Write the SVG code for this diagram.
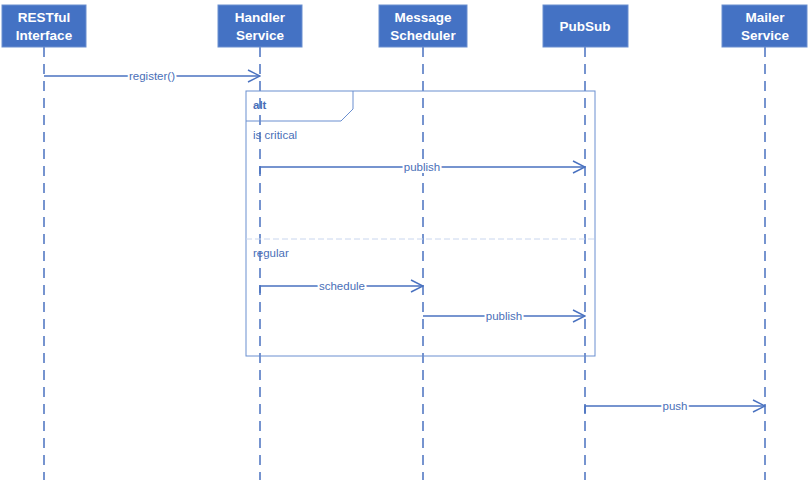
<svg xmlns="http://www.w3.org/2000/svg" width="808" height="485" viewBox="0 0 808 485">
<style>
.box{fill:#4472C4;stroke:#6A8FD0;stroke-width:1}
.bt{font-family:"Liberation Sans",Arial,sans-serif;font-size:13.5px;font-weight:bold;fill:#fff;text-anchor:middle}
.life{stroke:#4A72C0;stroke-width:1.5;stroke-dasharray:10,7;fill:none}
.msg{stroke:#4A72C0;stroke-width:1.5;fill:none}
.ml{font-family:"Liberation Sans",Arial,sans-serif;font-size:11.5px;fill:#4A6FB8;text-anchor:middle;paint-order:stroke;stroke:#fff;stroke-width:4px}
.frame{fill:none;stroke:#6A8FD0;stroke-width:1}
.ft{font-family:"Liberation Sans",Arial,sans-serif;font-size:11.5px;fill:#4A6FB8}
</style>
<defs>
<marker id="arr" viewBox="0 0 14 14" refX="13" refY="7" markerWidth="14" markerHeight="14" markerUnits="userSpaceOnUse" orient="auto">
<path d="M1,1 L13,7 L1,13" fill="none" stroke="#4A72C0" stroke-width="1.5"/>
</marker>
</defs>
<rect width="808" height="485" fill="#fff"/>
<g id="lifelines">
<line class="life" x1="44" y1="47" x2="44" y2="480"/>
<line class="life" x1="260" y1="47" x2="260" y2="480"/>
<line class="life" x1="423" y1="47" x2="423" y2="480"/>
<line class="life" x1="585" y1="47" x2="585" y2="480"/>
<line class="life" x1="765" y1="47" x2="765" y2="480"/>
</g>
<g id="restful"><rect class="box" x="2" y="5" width="84" height="42"/><text class="bt" x="44" y="22">RESTful</text><text class="bt" x="44" y="40">Interface</text></g>
<g id="handler"><rect class="box" x="218" y="5" width="84" height="42"/><text class="bt" x="260" y="22">Handler</text><text class="bt" x="260" y="40">Service</text></g>
<g id="scheduler"><rect class="box" x="379" y="5" width="88" height="42"/><text class="bt" x="423" y="22">Message</text><text class="bt" x="423" y="40">Scheduler</text></g>
<g id="pubsub"><rect class="box" x="543" y="5" width="85" height="42"/><text class="bt" x="585" y="31">PubSub</text></g>
<g id="mailer"><rect class="box" x="722" y="5" width="85" height="42"/><text class="bt" x="765" y="22">Mailer</text><text class="bt" x="765" y="40">Service</text></g>
<g id="alt-frame">
<rect class="frame" x="246" y="91" width="349" height="265"/>
<path class="frame" d="M246,121 L341,121 L353,109 L353,91"/>
<text class="ft" x="253" y="109" font-weight="bold">alt</text>
<text class="ft" x="253" y="139">is critical</text>
<line x1="246" y1="239" x2="595" y2="239" stroke="#C9D6EE" stroke-width="1" stroke-dasharray="6,3"/>
<text class="ft" x="253" y="257">regular</text>
</g>
<g id="connectors">
<line class="msg" x1="44" y1="76" x2="260" y2="76" marker-end="url(#arr)"/>
<text class="ml" x="152" y="80">register()</text>
<polyline class="msg" points="260,174 260,167 585,167" marker-end="url(#arr)"/>
<text class="ml" x="422" y="171">publish</text>
<polyline class="msg" points="260,293 260,286 423,286" marker-end="url(#arr)"/>
<text class="ml" x="342" y="290">schedule</text>
<polyline class="msg" points="423,316 585,316" marker-end="url(#arr)"/>
<text class="ml" x="504" y="320">publish</text>
<polyline class="msg" points="585,413 585,406 765,406" marker-end="url(#arr)"/>
<text class="ml" x="675" y="410">push</text>
</g>
</svg>
